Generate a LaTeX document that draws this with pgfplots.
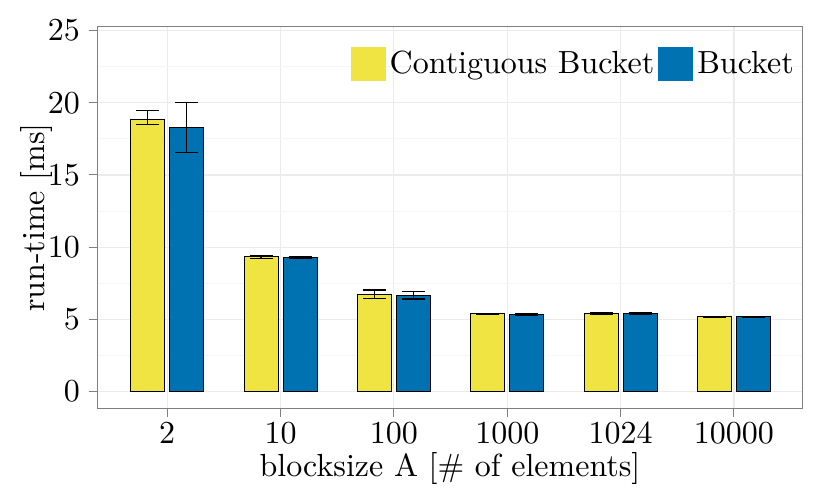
\documentclass[border=0pt]{standalone}
\usepackage{fontspec}
\setmainfont{lmroman10-regular.otf}
\usepackage{pgfplots}
\pgfplotsset{compat=1.18}
\usepackage{pgfplotstable}
\definecolor{cyel}{HTML}{F0E442}
\definecolor{cblu}{HTML}{0072B2}
\definecolor{gridmaj}{HTML}{EBEBEB}
\definecolor{gridmin}{HTML}{F5F5F5}
\definecolor{frame}{HTML}{7F7F7F}
\pgfplotstableread{
x y ep em
0 18.86 0.60 0.36
1 9.33 0.10 0.10
2 6.70 0.32 0.24
3 5.38 0.03 0.03
4 5.42 0.05 0.05
5 5.19 0.03 0.03
}\contig
\pgfplotstableread{
x y ep em
0 18.30 1.73 1.75
1 9.30 0.04 0.04
2 6.67 0.28 0.27
3 5.33 0.05 0.05
4 5.40 0.03 0.03
5 5.19 0.03 0.03
}\bucket
\newcommand{\bigf}{\fontsize{16}{19.2}\selectfont}
\begin{document}
\begin{tikzpicture}
\begin{axis}[
  scale only axis, width=352pt, height=190.5pt,
  xmin=-0.61, xmax=5.6, ymin=-1.13, ymax=25.24,
  ybar=2.5pt, bar width=17pt,
  xtick={0,1,2,3,4,5},
  xticklabels={2,10,100,1000,1024,10000},
  ytick={0,5,10,15,20,25},
  minor ytick={2.5,7.5,12.5,17.5,22.5},
  xtick pos=bottom, ytick pos=left,
  tick align=outside, major tick length=4.5pt, minor tick length=0pt,
  every tick/.style={frame, line width=0.5pt},
  axis line style={frame, line width=0.5pt},
  xmajorgrids, ymajorgrids, yminorgrids,
  major grid style={gridmaj, line width=0.6pt},
  minor grid style={gridmin, line width=0.4pt},
  /pgf/number format/assume math mode=true,
  tick label style={font=\bigf, black},
  yticklabel style={xshift=-1pt},
  xticklabel style={yshift=1pt},
  xlabel={blocksize A [\# of elements]},
  ylabel={run-time [ms]},
  label style={font=\bigf},
  xlabel style={yshift=3pt},
  ylabel style={yshift=-9pt},
  legend columns=2,
  legend style={at={(0.986,0.903)}, xshift=3pt, anchor=east, draw=none, fill=none,
    font=\bigf, inner sep=0pt,
    nodes={inner sep=2pt},
    /tikz/every even column/.append style={column sep=0pt}},
  legend image code/.code={\path[#1, draw=none] (0pt,-8.5pt) rectangle (17.5pt,8.5pt);},
  clip=false,
]
\addplot[fill=cyel, draw=black, line width=0.5pt,
  error bars/.cd, y dir=both, y explicit,
  error bar style={black, line width=0.75pt},
  error mark options={black, rotate=90, mark size=5.75pt, line width=0.75pt}]
  table[x=x, y=y, y error plus=ep, y error minus=em]{\contig};
\addlegendentry{Contiguous Bucket}
\addplot[fill=cblu, draw=black, line width=0.5pt,
  error bars/.cd, y dir=both, y explicit,
  error bar style={black, line width=0.75pt},
  error mark options={black, rotate=90, mark size=5.75pt, line width=0.75pt}]
  table[x=x, y=y, y error plus=ep, y error minus=em]{\bucket};
\addlegendentry{Bucket}
\coordinate (sw) at (rel axis cs:0,0);
\coordinate (ne) at (rel axis cs:1,1);
\end{axis}
\pgfresetboundingbox
\path ([shift={(-49pt,-45pt)}]sw) rectangle ([shift={(14pt,13.5pt)}]ne);
\end{tikzpicture}
\end{document}
